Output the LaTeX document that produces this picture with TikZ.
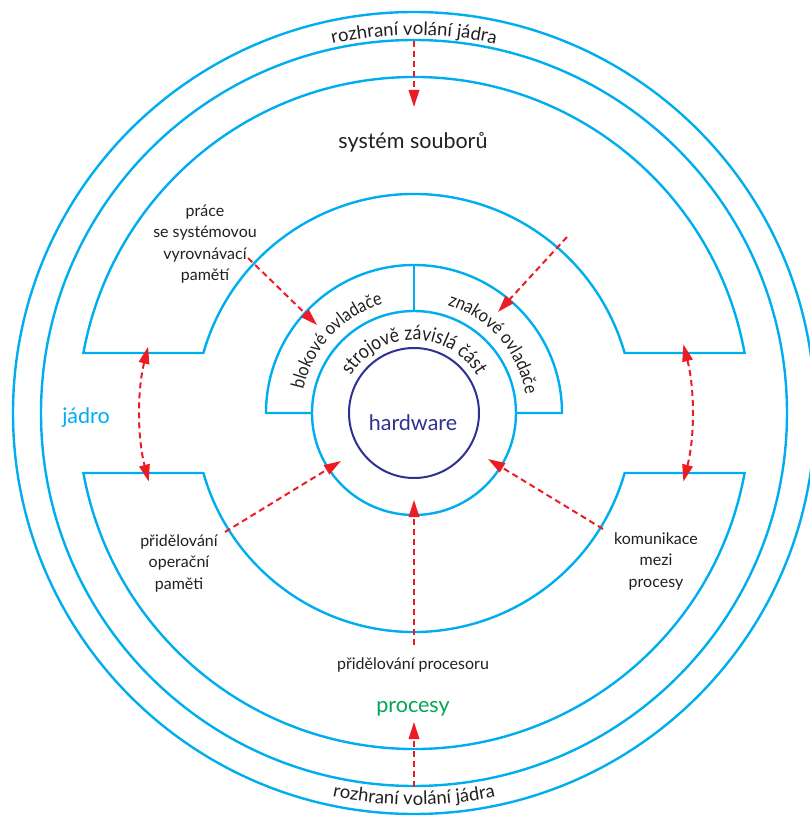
\documentclass[tikz,border=0pt]{standalone}
\usepackage{fontspec}
\setmainfont{Lato}
\newfontfamily\narrowlato{Lato}[FakeStretch=0.87]
\usetikzlibrary{arrows.meta,decorations.text}
\definecolor{ringblue}{HTML}{00AEEF}
\definecolor{flowred}{HTML}{ED1C24}
\definecolor{procgreen}{HTML}{00A651}
\definecolor{hwblue}{HTML}{2E3192}
\definecolor{ink}{HTML}{231F20}
\newcommand\corefont{\narrowlato\fontsize{20}{20}\selectfont}
\newcommand\driverfont{\narrowlato\fontsize{18.5}{18.5}\selectfont}
\newcommand\bandfont{\fontsize{18.5}{18.5}\selectfont}
\begin{document}
\begin{tikzpicture}[x=1pt,y=1pt,
  ring/.style={draw=ringblue, line width=2.4pt},
  hwring/.style={draw=hwblue, line width=2pt},
  tipshape/.tip={Triangle[length=17pt,width=10.5pt]},
  flow/.style={draw=flowred, line width=2pt, dash pattern=on 6pt off 4pt, -tipshape},
  flowboth/.style={flow, tipshape-tipshape},
  lbl/.style={font=\fontsize{16}{21.5}\selectfont, text=ink, align=center, inner sep=0pt},
  bigl/.style={font=\fontsize{21.5}{21.5}\selectfont, inner sep=0pt, anchor=base},
  curved/.style 2 args={decorate, decoration={text along path, text align=center, text color=ink, text={|#1|#2}}},
]
\useasboundingbox (-414,-403) rectangle (396,413);

% outer rings: system call interface band
\draw[ring] (0,0) circle[radius=401];
\draw[ring] (0,0) circle[radius=373];

% kernel: upper and lower annular sectors
\draw[ring] ({asin(60/336)}:336) arc[start angle={asin(60/336)}, end angle={180-asin(60/336)}, radius=336]
  -- ({180-asin(60/219)}:219) arc[start angle={180-asin(60/219)}, end angle={asin(60/219)}, radius=219] -- cycle;
\draw[ring] ({-asin(60/336)}:336) arc[start angle={-asin(60/336)}, end angle={-180+asin(60/336)}, radius=336]
  -- ({-180+asin(60/219)}:219) arc[start angle={-180+asin(60/219)}, end angle={-asin(60/219)}, radius=219] -- cycle;

% device drivers half ring
\draw[ring] (102,0) -- (148,0) arc[start angle=0, end angle=180, radius=148] -- (-102,0);
\draw[ring] (0,102) -- (0,148);

% machine dependent part and hardware
\draw[ring] (0,0) circle[radius=102];
\draw[hwring] (0,0) circle[radius=65];

% curved labels
\path[curved={\bandfont}{rozhraní volání jádra}] (120:378) arc[start angle=120, end angle=60, radius=378];
\path[curved={\bandfont}{rozhraní volání jádra}] (240:392) arc[start angle=240, end angle=300, radius=392];
\path[curved={\corefont}{strojově závislá část}] (150:73) arc[start angle=150, end angle=30, radius=73];
\path[curved={\driverfont}{blokové ovladače}] (177:113) arc[start angle=177, end angle=97, radius=113];
\path[curved={\driverfont}{znakové ovladače}] (81:113) arc[start angle=81, end angle=1, radius=113];

% straight labels
\node[bigl, text=ink] (fs) at (-1,264) {systém souborů};
\node[bigl, text=ringblue] (kernel) at (-328,-10) {jádro};
\node[bigl, text=procgreen] (proc) at (-1,-299) {procesy};
\node[bigl, text=hwblue] (hw) at (-1,-17) {hardware};
\node[lbl] (cache) at (-209,169) {práce\\se systémovou\\vyrovnávací\\pamětí};
\node[lbl] (mem) at (-235,-150) {přidělování\\operační\\paměti};
\node[lbl] (ipc) at (242,-148) {komunikace\\mezi\\procesy};
\node[lbl, anchor=base] (cpu) at (-1,-256) {přidělování procesoru};

% flows
\coordinate (callTop) at (0,372);
\coordinate (fsTop) at (0,306);
\coordinate (callBot) at (0,-374);
\coordinate (procBot) at (0,-309);
\draw[flow] (callTop) -- (fsTop);
\draw[flow] (callBot) -- (procBot);

\coordinate (leftUp) at (166:274);
\coordinate (rightUp) at (14.3:278);
\draw[flowboth] (leftUp) arc[start angle=166, end angle=194.5, radius=274];
\draw[flowboth] (rightUp) arc[start angle=14.3, end angle=-14.3, radius=278];

\coordinate (cacheOut) at (-166,155);
\coordinate (blockIn) at (-97,88);
\coordinate (charOut) at (153,176);
\coordinate (charIn) at (84,101);
\coordinate (memOut) at (-189,-119);
\coordinate (memIn) at (-73,-48);
\coordinate (ipcOut) at (189,-116);
\coordinate (ipcIn) at (74,-46);
\coordinate (cpuOut) at (0,-232);
\coordinate (cpuIn) at (0,-87);
\draw[flow] (cacheOut) -- (blockIn);
\draw[flow] (charOut) -- (charIn);
\draw[flow] (memOut) -- (memIn);
\draw[flow] (ipcOut) -- (ipcIn);
\draw[flow] (cpuOut) -- (cpuIn);
\end{tikzpicture}
\end{document}
